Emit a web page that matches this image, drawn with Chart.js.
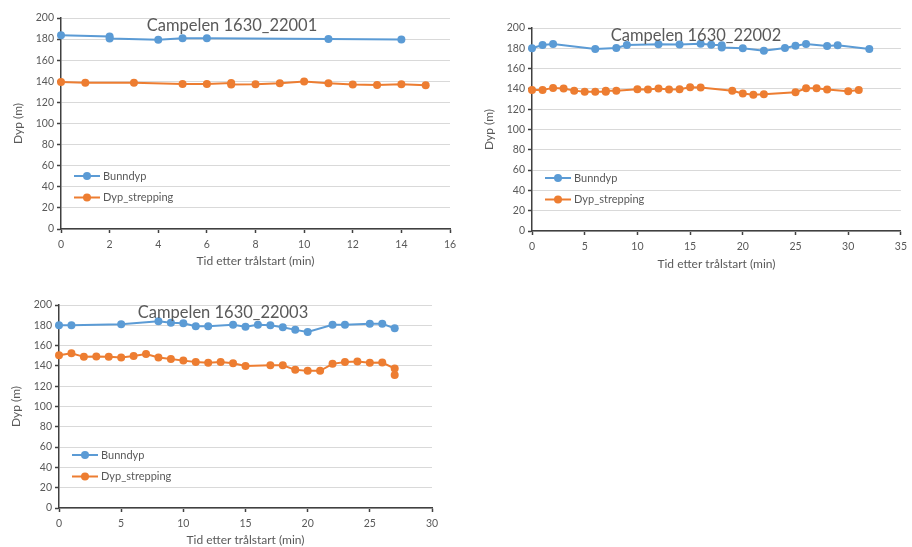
<!DOCTYPE html>
<html>
<head>
<meta charset="utf-8">
<script src="https://cdn.jsdelivr.net/npm/chart.js@4.4.1/dist/chart.umd.min.js"></script>
<style>
  body { margin: 0; background: #fff; width: 912px; height: 547px; overflow: hidden; position: relative; }
  canvas { position: absolute; }
</style>
</head>
<body>
<canvas id="c1" width="465" height="275" style="left:0;top:0"></canvas>
<canvas id="c2" width="442" height="275" style="left:470px;top:0"></canvas>
<canvas id="c3" width="465" height="262" style="left:0;top:285px"></canvas>
<script>
// Campelen 1630_22001
const bunnTime1 = [0, 2, 2, 4, 5, 6, 11, 14];
const bunnDepth1 = [183.6, 182.4, 180.6, 179.4, 180.9, 180.9, 180, 179.7];
const strepTime1 = [0, 1, 3, 5, 6, 7, 7, 8, 9, 10, 11, 12, 13, 14, 15];
const strepDepth1 = [139.4, 138.7, 138.7, 137.5, 137.5, 138.4, 136.9, 137.2, 138.1, 139.7, 138.1, 136.9, 136.6, 137.2, 136.2];

// Campelen 1630_22002
const bunnTime2 = [0, 1, 2, 6, 8, 9, 12, 14, 16, 17, 18, 18, 20, 22, 24, 25, 26, 28, 29, 32];
const bunnDepth2 = [180, 183.3, 184.3, 179.3, 180.3, 183.3, 184, 183.7, 184.6, 183.6, 183, 180.7, 180, 177.7, 180.3, 182.6, 184.3, 182.3, 183, 179.3];
const strepTime2 = [0, 1, 2, 3, 4, 5, 6, 7, 7, 8, 10, 11, 12, 13, 14, 15, 16, 19, 20, 21, 22, 25, 26, 27, 28, 30, 31];
const strepDepth2 = [139, 139, 141, 140.3, 138.3, 137.3, 137.3, 137.3, 138.3, 138.3, 139.7, 139.3, 140.3, 139.3, 139.7, 141.7, 141.3, 138.1, 135.5, 134.2, 134.8, 136.8, 140.7, 140.7, 139.4, 137.8, 138.8];

// Campelen 1630_22003
const bunnTime3 = [0, 1, 5, 8, 9, 10, 11, 12, 14, 15, 16, 17, 18, 19, 20, 22, 23, 25, 26, 27];
const bunnDepth3 = [180, 180, 181, 184, 182.5, 182, 179, 179, 180.5, 178.5, 180.5, 180, 178, 175.5, 173.5, 180.5, 180.5, 181.5, 181.5, 177];
const strepTime3 = [0, 1, 2, 3, 4, 5, 6, 7, 8, 9, 10, 11, 12, 13, 14, 15, 17, 18, 19, 20, 21, 22, 23, 24, 25, 26, 27, 27];
const strepDepth3 = [150.5, 152.5, 148.9, 149.2, 148.9, 148.2, 149.8, 151.8, 148.2, 146.9, 145.2, 143.9, 143, 143.9, 142.6, 140, 140.7, 140.7, 136.1, 135.1, 135.1, 142, 143.9, 144.3, 143, 143.3, 137.4, 131.1];

const seriesNames = ['Bunndyp', 'Dyp_strepping'];
const yTicks = [0, 20, 40, 60, 80, 100, 120, 140, 160, 180, 200];

const BLUE = '#5B9BD5';
const ORANGE = '#ED7D31';
const TEXT = '#595959';
const AXIS = '#404040';
const FONT = 'Lato, "Liberation Sans", sans-serif';

// title inside the plot + legend in the lower-left corner, like the Excel originals
const excelOverlay = {
  id: 'excelOverlay',
  afterDraw(chart, args, opts) {
    const ctx = chart.ctx;
    const a = chart.chartArea;
    ctx.save();
    ctx.fillStyle = TEXT;
    ctx.font = '16.5px ' + FONT;
    ctx.textAlign = 'center';
    ctx.textBaseline = 'middle';
    ctx.fillText(opts.title, opts.titleX, a.top + 8);

    chart.data.datasets.forEach((ds, i) => {
      const y = a.bottom - 53 + i * 21.5;
      const x0 = a.left + 13;
      ctx.strokeStyle = ds.borderColor;
      ctx.lineWidth = 2;
      ctx.beginPath();
      ctx.moveTo(x0, y);
      ctx.lineTo(x0 + 26, y);
      ctx.stroke();
      ctx.fillStyle = ds.borderColor;
      ctx.beginPath();
      ctx.arc(x0 + 13, y, 4, 0, Math.PI * 2);
      ctx.fill();
      ctx.fillStyle = TEXT;
      ctx.font = '11px ' + FONT;
      ctx.textAlign = 'left';
      ctx.fillText(ds.label, x0 + 29, y);
    });
    ctx.restore();
  }
};

function toPoints(xs, ys) {
  return xs.map((x, i) => ({ x: x, y: ys[i] }));
}

function makeChart(id, cfg) {
  const series = [
    { label: seriesNames[0], data: toPoints(cfg.bunnTime, cfg.bunnDepth), color: BLUE },
    { label: seriesNames[1], data: toPoints(cfg.strepTime, cfg.strepDepth), color: ORANGE }
  ];
  return new Chart(document.getElementById(id), {
    type: 'line',
    data: {
      datasets: series.map(s => ({
        label: s.label,
        data: s.data,
        borderColor: s.color,
        backgroundColor: s.color,
        borderWidth: 2,
        pointRadius: 4,
        pointBorderWidth: 0,
        pointBackgroundColor: s.color,
        tension: 0,
        clip: false
      }))
    },
    plugins: [excelOverlay],
    options: {
      responsive: false,
      animation: false,
      layout: { padding: { top: cfg.top, right: cfg.right, left: 0, bottom: 0 } },
      plugins: {
        legend: { display: false },
        tooltip: { enabled: false },
        excelOverlay: { title: cfg.title, titleX: cfg.titleX }
      },
      scales: {
        x: {
          type: 'linear',
          min: 0,
          max: cfg.xMax,
          ticks: { stepSize: cfg.xStep, color: TEXT, font: { family: FONT, size: 10.5 }, padding: 5 },
          grid: { drawOnChartArea: false, drawTicks: true, tickLength: 4, tickColor: AXIS, tickWidth: 1.5 },
          border: { color: AXIS, width: 1.5 },
          title: {
            display: true,
            text: 'Tid etter trålstart (min)',
            color: TEXT,
            font: { family: FONT, size: 12 },
            padding: { top: 0, bottom: cfg.xTitlePad }
          },
          afterFit(scale) { scale.height = cfg.xHeight; }
        },
        y: {
          min: 0,
          max: 200,
          afterBuildTicks(scale) { scale.ticks = yTicks.map(v => ({ value: v })); },
          ticks: { color: TEXT, font: { family: FONT, size: 10.5 }, padding: 3 },
          grid: { color: '#d9d9d9', lineWidth: 1, tickLength: 4, tickColor: AXIS, tickWidth: 1.5 },
          border: { color: AXIS, width: 1.5 },
          title: {
            display: true,
            text: 'Dyp (m)',
            color: TEXT,
            font: { family: FONT, size: 12 },
            padding: { top: cfg.yTitlePad, bottom: 0 }
          },
          afterFit(scale) { scale.width = cfg.yWidth; }
        }
      }
    }
  });
}

makeChart('c1', {
  title: 'Campelen 1630_22001', titleX: 232,
  bunnTime: bunnTime1, bunnDepth: bunnDepth1, strepTime: strepTime1, strepDepth: strepDepth1,
  xMax: 16, xStep: 2, top: 18, right: 15, xHeight: 46, yWidth: 61, xTitlePad: 7, yTitlePad: 11
});

makeChart('c2', {
  title: 'Campelen 1630_22002', titleX: 226,
  bunnTime: bunnTime2, bunnDepth: bunnDepth2, strepTime: strepTime2, strepDepth: strepDepth2,
  xMax: 35, xStep: 5, top: 28, right: 6, xHeight: 44, yWidth: 62, xTitlePad: 4, yTitlePad: 12
});

makeChart('c3', {
  title: 'Campelen 1630_22003', titleX: 223,
  bunnTime: bunnTime3, bunnDepth: bunnDepth3, strepTime: strepTime3, strepDepth: strepDepth3,
  xMax: 30, xStep: 5, top: 20, right: 33, xHeight: 39, yWidth: 59, xTitlePad: 0, yTitlePad: 9
});
</script>
</body>
</html>
